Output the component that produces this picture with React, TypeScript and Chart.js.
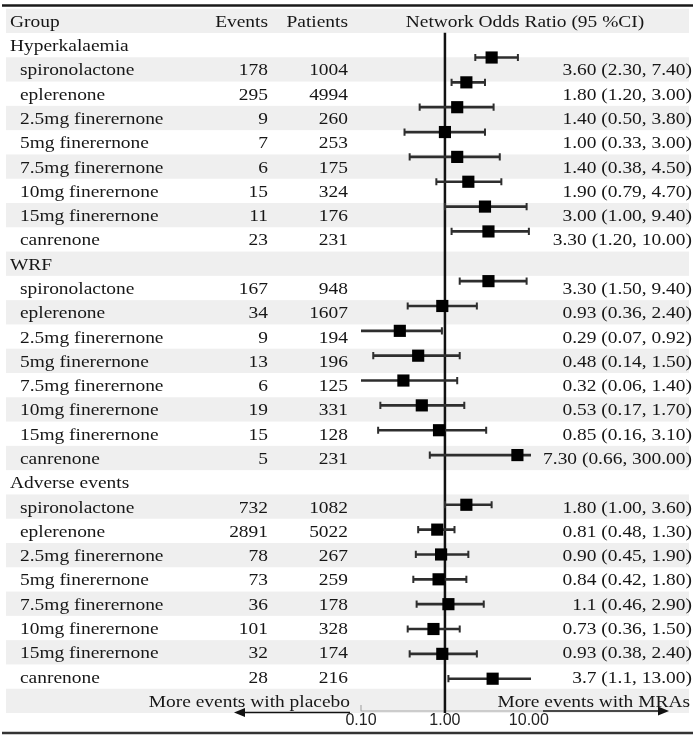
import React, { useEffect, useRef } from 'react';
import { Chart, registerables } from 'chart.js';

Chart.register(...registerables);

// ---------- data ----------
const headerLabels = ['Group', 'Events', 'Patients', 'Network Odds Ratio (95 %CI)'];
const groupNames = ['Hyperkalaemia', 'WRF', 'Adverse events'];
const drugNames = [
  'spironolactone',
  'eplerenone',
  '2.5mg finerernone',
  '5mg finerernone',
  '7.5mg finerernone',
  '10mg finerernone',
  '15mg finerernone',
  'canrenone',
];

const hyperEvents = [178, 295, 9, 7, 6, 15, 11, 23];
const hyperPatients = [1004, 4994, 260, 253, 175, 324, 176, 231];
const hyperOR = [3.6, 1.8, 1.4, 1.0, 1.4, 1.9, 3.0, 3.3];
const hyperLow = [2.3, 1.2, 0.5, 0.33, 0.38, 0.79, 1.0, 1.2];
const hyperHigh = [7.4, 3.0, 3.8, 3.0, 4.5, 4.7, 9.4, 10.0];
const hyperText = [
  '3.60 (2.30, 7.40)', '1.80 (1.20, 3.00)', '1.40 (0.50, 3.80)', '1.00 (0.33, 3.00)',
  '1.40 (0.38, 4.50)', '1.90 (0.79, 4.70)', '3.00 (1.00, 9.40)', '3.30 (1.20, 10.00)',
];

const wrfEvents = [167, 34, 9, 13, 6, 19, 15, 5];
const wrfPatients = [948, 1607, 194, 196, 125, 331, 128, 231];
const wrfOR = [3.3, 0.93, 0.29, 0.48, 0.32, 0.53, 0.85, 7.3];
const wrfLow = [1.5, 0.36, 0.07, 0.14, 0.06, 0.17, 0.16, 0.66];
const wrfHigh = [9.4, 2.4, 0.92, 1.5, 1.4, 1.7, 3.1, 300.0];
const wrfText = [
  '3.30 (1.50, 9.40)', '0.93 (0.36, 2.40)', '0.29 (0.07, 0.92)', '0.48 (0.14, 1.50)',
  '0.32 (0.06, 1.40)', '0.53 (0.17, 1.70)', '0.85 (0.16, 3.10)', '7.30 (0.66, 300.00)',
];

const adverseEvents = [732, 2891, 78, 73, 36, 101, 32, 28];
const adversePatients = [1082, 5022, 267, 259, 178, 328, 174, 216];
const adverseOR = [1.8, 0.81, 0.9, 0.84, 1.1, 0.73, 0.93, 3.7];
const adverseLow = [1.0, 0.48, 0.45, 0.42, 0.46, 0.36, 0.38, 1.1];
const adverseHigh = [3.6, 1.3, 1.9, 1.8, 2.9, 1.5, 2.4, 13.0];
const adverseText = [
  '1.80 (1.00, 3.60)', '0.81 (0.48, 1.30)', '0.90 (0.45, 1.90)', '0.84 (0.42, 1.80)',
  '1.1 (0.46, 2.90)', '0.73 (0.36, 1.50)', '0.93 (0.38, 2.40)', '3.7 (1.1, 13.00)',
];

const xTickValues = [0.1, 1, 10];
const xTickLabels = ['0.10', '1.00', '10.00'];
const referenceValue = 1;
const directionLabels = ['More events with placebo', 'More events with MRAs'];

// ---------- build table rows ----------
type Row = {
  key: string;
  kind: 'header' | 'group' | 'drug' | 'footer';
  name?: string;
  events?: number;
  patients?: number;
  or?: number;
  low?: number;
  high?: number;
  text?: string;
  f?: number; // row index in the forest panel
};

const sections = [
  { name: groupNames[0], events: hyperEvents, patients: hyperPatients, or: hyperOR, low: hyperLow, high: hyperHigh, text: hyperText },
  { name: groupNames[1], events: wrfEvents, patients: wrfPatients, or: wrfOR, low: wrfLow, high: wrfHigh, text: wrfText },
  { name: groupNames[2], events: adverseEvents, patients: adversePatients, or: adverseOR, low: adverseLow, high: adverseHigh, text: adverseText },
];

const rows: Row[] = [];
rows.push({ key: 'header', kind: 'header' });
let fIndex = 0;
sections.forEach((s) => {
  rows.push({ key: s.name, kind: 'group', name: s.name, f: fIndex++ });
  drugNames.forEach((d, i) => {
    rows.push({
      key: s.name + '|' + d,
      kind: 'drug',
      name: d,
      events: s.events[i],
      patients: s.patients[i],
      or: s.or[i],
      low: s.low[i],
      high: s.high[i],
      text: s.text[i],
      f: fIndex++,
    });
  });
});
rows.push({ key: 'footer', kind: 'footer' });

const rowKeys = rows.map((r) => r.key);
const drugRows = rows.filter((r) => r.kind === 'drug');

// ---------- drawing helpers ----------
const SERIF = '"Liberation Serif", "Times New Roman", serif';
const SANS = '"Liberation Sans", Arial, sans-serif';
const TEXT_SIZE = 17.5;
const STRETCH = 1.11;
const INK = '#161616';
const BAR_INK = '#2e2e2e';

function drawText(ctx: CanvasRenderingContext2D, s: string, x: number, y: number, align: CanvasTextAlign) {
  ctx.save();
  ctx.translate(x, y);
  ctx.scale(STRETCH, 1);
  ctx.textAlign = align;
  ctx.fillText(s, 0, 0);
  ctx.restore();
}

function arrow(ctx: CanvasRenderingContext2D, x0: number, x1: number, y: number) {
  const dir = x1 > x0 ? 1 : -1;
  ctx.beginPath();
  ctx.moveTo(x0, y);
  ctx.lineTo(x1 - dir * 6, y);
  ctx.stroke();
  ctx.beginPath();
  ctx.moveTo(x1, y);
  ctx.lineTo(x1 - dir * 11, y - 4.5);
  ctx.lineTo(x1 - dir * 11, y + 4.5);
  ctx.closePath();
  ctx.fill();
}

const tablePlugin = {
  id: 'forestTable',
  beforeDraw(chart: any) {
    const { ctx } = chart;
    const y = chart.scales.y;
    const h = y.getPixelForValue(1) - y.getPixelForValue(0);
    ctx.save();
    ctx.fillStyle = '#ffffff';
    ctx.fillRect(0, 0, chart.width, chart.height);
    ctx.fillStyle = '#efefef';
    rows.forEach((_r, i) => {
      if (i % 2 === 0) {
        const c = y.getPixelForValue(i);
        ctx.fillRect(6, c - h / 2, chart.width - 12, h);
      }
    });
    ctx.restore();
  },
  beforeDatasetsDraw(chart: any) {
    const { ctx, chartArea } = chart;
    const x = chart.scales.x;
    const yf = chart.scales.yf;
    ctx.save();
    // light axis line
    const ax0 = x.getPixelForValue(xTickValues[0]);
    const axY = chartArea.bottom - 2;
    ctx.strokeStyle = '#aaaaaa';
    ctx.lineWidth = 1.2;
    ctx.beginPath();
    ctx.moveTo(ax0, axY - 6);
    ctx.lineTo(ax0, axY);
    ctx.lineTo(chartArea.right + 12, axY);
    ctx.stroke();
    // line of no effect
    const x1 = x.getPixelForValue(referenceValue);
    ctx.strokeStyle = '#111111';
    ctx.lineWidth = 2.5;
    ctx.beginPath();
    ctx.moveTo(x1, yf.getPixelForValue(0));
    ctx.lineTo(x1, chartArea.bottom);
    ctx.stroke();
    ctx.restore();
  },
  afterDatasetsDraw(chart: any) {
    const { ctx, chartArea } = chart;
    const y = chart.scales.y;
    ctx.save();
    ctx.fillStyle = INK;
    ctx.font = `${TEXT_SIZE}px ${SERIF}`;
    ctx.textBaseline = 'alphabetic';
    rows.forEach((r, i) => {
      const base = y.getPixelForValue(i) + 6;
      if (r.kind === 'header') {
        drawText(ctx, headerLabels[0], 10, base, 'left');
        drawText(ctx, headerLabels[1], 268, base, 'right');
        drawText(ctx, headerLabels[2], 348, base, 'right');
        drawText(ctx, headerLabels[3], 525, base, 'center');
      } else if (r.kind === 'group') {
        drawText(ctx, r.name!, 10, base, 'left');
      } else if (r.kind === 'drug') {
        drawText(ctx, r.name!, 20, base, 'left');
        drawText(ctx, String(r.events), 268, base, 'right');
        drawText(ctx, String(r.patients), 348, base, 'right');
        drawText(ctx, r.text!, 692, base, 'right');
      } else {
        drawText(ctx, directionLabels[0], 350, base, 'right');
        drawText(ctx, directionLabels[1], 690, base, 'right');
      }
    });
    // direction arrows
    ctx.strokeStyle = '#111111';
    ctx.fillStyle = '#111111';
    ctx.lineWidth = 1.6;
    arrow(ctx, 350, 234, chartArea.bottom - 0.5);
    arrow(ctx, 543, 669, chartArea.bottom - 2);
    // table rules
    ctx.strokeStyle = '#1a1a1a';
    ctx.lineWidth = 2.6;
    ctx.beginPath();
    ctx.moveTo(2, 5.5);
    ctx.lineTo(chart.width - 2, 5.5);
    ctx.stroke();
    ctx.strokeStyle = '#333333';
    ctx.lineWidth = 2.4;
    ctx.beginPath();
    ctx.moveTo(2, chart.height - 5);
    ctx.lineTo(chart.width - 2, chart.height - 5);
    ctx.stroke();
    ctx.restore();
  },
};

export default function App() {
  const ref = useRef<HTMLCanvasElement>(null);

  useEffect(() => {
    if (!ref.current) return;
    const chart = new Chart(ref.current, {
      type: 'scatter',
      data: {
        labels: rowKeys,
        datasets: [
          {
            type: 'scatter',
            label: 'Odds ratio',
            yAxisID: 'yf',
            data: drugRows.map((r) => ({ x: r.or, y: r.f })),
            pointStyle: 'rect',
            pointRadius: 8.6,
            pointBackgroundColor: '#000000',
            pointBorderWidth: 0,
            clip: false,
            order: 0,
          } as any,
          {
            type: 'scatter',
            label: 'CI caps',
            yAxisID: 'yf',
            data: drugRows.flatMap((r) => [
              { x: r.low, y: r.f },
              { x: r.high, y: r.f },
            ]),
            pointStyle: 'line',
            pointRotation: 90,
            pointRadius: 3.6,
            pointBorderWidth: 2,
            pointBorderColor: BAR_INK,
            clip: 0,
            order: 1,
          } as any,
          {
            type: 'bar',
            label: '95% CI',
            indexAxis: 'y',
            yAxisID: 'yf',
            data: drugRows.map((r) => ({ x: [r.low, r.high], y: r.f })),
            barThickness: 2,
            backgroundColor: BAR_INK,
            borderWidth: 0,
            grouped: false,
            clip: 0,
            order: 2,
          } as any,
        ],
      },
      options: {
        responsive: false,
        animation: false,
        events: [],
        layout: { padding: { left: 361, right: 164, top: 8.7, bottom: 0 } },
        plugins: { legend: { display: false }, tooltip: { enabled: false } },
        scales: {
          x: {
            type: 'logarithmic',
            position: 'bottom',
            min: 0.1,
            max: 10.6,
            bounds: 'data',
            offset: false,
            beginAtZero: false,
            grid: { display: false, drawTicks: false },
            border: { display: false },
            ticks: {
              autoSkip: false,
              maxRotation: 0,
              padding: -2,
              color: '#222222',
              font: { family: SANS, size: 16 },
              callback: (_v: any, i: number) => xTickLabels[i],
            },
            afterBuildTicks: (scale: any) => {
              scale.ticks = xTickValues.map((v) => ({ value: v }));
            },
            afterFit: (scale: any) => {
              scale.height = 25;
            },
          },
          y: {
            type: 'category',
            display: false,
            offset: true,
            grid: { display: false },
          },
          yf: {
            type: 'linear',
            display: false,
            reverse: true,
            offset: false,
            beginAtZero: false,
            bounds: 'data',
            min: -0.964,
            max: 27.38,
            grid: { display: false, offset: false },
          },
        } as any,
      },
      plugins: [tablePlugin],
    });
    return () => chart.destroy();
  }, []);

  return (
    <div style={{ position: 'fixed', left: 0, top: 0, width: 695, height: 738, background: '#ffffff' }}>
      <canvas ref={ref} width={695} height={738} style={{ display: 'block' }} />
    </div>
  );
}
